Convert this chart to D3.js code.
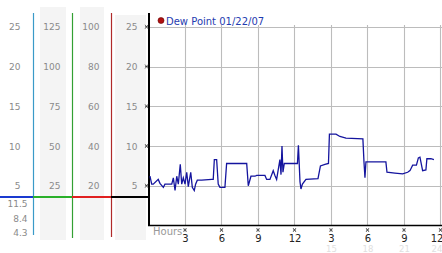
<!DOCTYPE html>
<html><head><meta charset="utf-8">
<script src="https://cdn.jsdelivr.net/npm/d3@7"></script>
<style>html,body{margin:0;padding:0;background:#fff;overflow:hidden}svg{display:block}</style>
</head><body>
<script>
// ---- data ----
const hours = [0.08,0.22,0.35,0.76,0.90,1.18,1.31,1.87,2.00,2.14,2.28,2.41,2.57,2.69,2.82,2.96,3.10,3.23,3.43,3.56,3.72,3.83,3.97,4.33,5.15,5.28,5.37,5.56,5.69,5.83,6.24,6.38,8.03,8.16,8.38,8.71,8.85,9.53,9.67,9.94,10.21,10.35,10.49,10.76,10.85,10.93,11.01,11.12,12.0,12.20,12.28,12.41,12.49,12.61,12.90,13.89,14.09,14.46,14.75,14.83,15.37,15.69,16.19,17.58,17.67,17.75,17.83,19.47,19.56,20.21,20.85,21.26,21.45,21.67,21.98,22.14,22.27,22.49,22.76,22.84,23.17,23.42];
const dewPoint = [6.2,5.2,5.2,5.8,5.3,4.8,5.2,5.2,6.0,4.4,6.2,5.2,7.7,5.2,6.0,5.2,6.7,4.9,6.7,4.8,4.4,5.2,5.7,5.7,5.8,5.8,8.3,8.3,5.2,4.8,4.8,7.8,7.8,5.0,6.2,6.2,6.3,6.3,5.8,5.8,6.9,6.3,5.8,8.3,6.4,10.0,6.7,7.8,7.8,7.8,10.1,5.5,4.6,5.2,5.8,5.9,7.5,7.7,7.8,11.5,11.5,11.2,11.0,10.9,8.0,6.0,8.0,8.0,6.7,6.6,6.5,6.7,6.9,7.6,7.6,8.5,8.6,6.9,7.0,8.4,8.4,8.3];
const seriesName = "Dew Point 01/22/07";
const hourTicks = [3,6,9,12,15,18,21,24];
const hourLabels = ["3","6","9","12","3","6","9","12"];
const hourLabels2 = ["","","","","15","18","21","24"];
const yTicks = [25,20,15,10,5];
const col1Labels = ["25","20","15","10","5"];
const col2Labels = ["125","100","75","50","25"];
const col3Labels = ["100","80","60","40","20"];
const col4Labels = ["25","20","15","10","5"];
const extraLabels = ["11.5","8.4","4.3"];

// ---- drawing ----
const W = 442, H = 253;
const svg = d3.select("body").append("svg").attr("width", W).attr("height", H);
const x = d3.scaleLinear().domain([0, 24]).range([149, 441]);
const y = d3.scaleLinear().domain([0, 25]).range([225.5, 26.8]);
const font = "DejaVu Sans, Verdana, sans-serif";

// gray bands in left panel
[[40, 66, 7], [80, 104, 7], [115, 146, 15]].forEach(([a, b, t]) => {
  svg.append("rect").attr("x", a).attr("y", t).attr("width", b - a).attr("height", 240 - t).attr("fill", "#f4f4f4");
});

// vertical colored lines
[[33, "#3a9ac8", 235], [72, "#33a033", 238], [111, "#b02a2a", 237]].forEach(([xx, c, b]) => {
  svg.append("line").attr("x1", xx + 0.5).attr("x2", xx + 0.5).attr("y1", 13).attr("y2", b).attr("stroke", c).attr("stroke-width", 1.2);
});

// horizontal colored bar
const barY = 197;
[[0, 33, "#1a3ad0"], [33, 72, "#2ab02a"], [72, 111, "#e02020"], [111, 149, "#000"]].forEach(([a, b, c]) => {
  svg.append("line").attr("x1", a).attr("x2", b).attr("y1", barY).attr("y2", barY).attr("stroke", c).attr("stroke-width", 2);
});

// left panel labels
function colLabels(labels, xr) {
  svg.append("g").selectAll("text").data(labels).join("text")
    .attr("x", xr).attr("y", (d, i) => y(yTicks[i]) + 3.5)
    .attr("text-anchor", "end").attr("font-family", font).attr("font-size", 9).attr("fill", "#8a8a8a")
    .text(d => d);
}
colLabels(col1Labels, 20.5);
colLabels(col2Labels, 60.5);
colLabels(col3Labels, 99.5);
colLabels(col4Labels, 137.5);
svg.append("g").selectAll("text").data(extraLabels).join("text")
  .attr("x", 27.5).attr("y", (d, i) => 207 + i * 14.5)
  .attr("text-anchor", "end").attr("font-family", font).attr("font-size", 9).attr("fill", "#8a8a8a")
  .text(d => d);

// grid
const grid = svg.append("g").attr("stroke", "#bcbcbc").attr("stroke-width", 1.1);
grid.selectAll("line.h").data(yTicks).join("line").attr("class", "h")
  .attr("x1", x(0)).attr("x2", W).attr("y1", d => Math.round(y(d)) + 0.5).attr("y2", d => Math.round(y(d)) + 0.5);
grid.selectAll("line.v").data(hourTicks).join("line").attr("class", "v")
  .attr("x1", d => Math.round(x(d)) - 0.5).attr("x2", d => Math.round(x(d)) - 0.5).attr("y1", 25).attr("y2", y(0));

// axes lines
svg.append("line").attr("x1", 149).attr("x2", 149).attr("y1", 13).attr("y2", y(0) + 0.5).attr("stroke", "#000").attr("stroke-width", 2);
svg.append("line").attr("x1", 148).attr("x2", W).attr("y1", y(0)).attr("y2", y(0)).attr("stroke", "#000").attr("stroke-width", 1.5);

// tick glyphs
function glyph(cx, cy) {
  svg.append("path").attr("d", `M${cx-1.5},${cy-2}L${cx+1.5},${cy+2}M${cx+1.5},${cy-2}L${cx-1.5},${cy+2}M${cx-1.5},${cy}L${cx+1.5},${cy}`)
    .attr("stroke", "#333").attr("stroke-width", 0.7).attr("fill", "none");
}
yTicks.forEach(t => glyph(146.5, y(t)));
hourTicks.forEach(t => glyph(x(t) - 0.5, 230));

// x labels
svg.append("g").selectAll("text").data(hourTicks).join("text")
  .attr("x", (d, i) => i === hourTicks.length - 1 ? x(d) - 4 : x(d)).attr("y", 241.5)
  .attr("text-anchor", "middle").attr("font-family", font).attr("font-size", 10).attr("fill", "#222")
  .text((d, i) => hourLabels[i]);
svg.append("g").selectAll("text").data(hourTicks).join("text")
  .attr("x", (d, i) => i === hourTicks.length - 1 ? x(d) - 4 : x(d)).attr("y", 252)
  .attr("text-anchor", "middle").attr("font-family", font).attr("font-size", 8.5).attr("fill", "#e0e0e0")
  .text((d, i) => hourLabels2[i]);
svg.append("text").attr("x", 153).attr("y", 235).attr("font-family", font).attr("font-size", 10).attr("fill", "#999").text("Hours");

// line
const data = hours.map((h, i) => ({h, v: dewPoint[i]}));
svg.append("path").datum(data)
  .attr("d", d3.line().x(d => x(d.h)).y(d => y(d.v)))
  .attr("fill", "none").attr("stroke", "#14149e").attr("stroke-width", 1.3);

// legend
svg.append("circle").attr("cx", 161).attr("cy", 20.5).attr("r", 3).attr("fill", "#b01010").attr("stroke", "#600").attr("stroke-width", 0.6);
svg.append("text").attr("x", 166).attr("y", 24.5).attr("font-family", font).attr("font-size", 10).attr("fill", "#1f3cb0").text(seriesName);
</script>
</body></html>
